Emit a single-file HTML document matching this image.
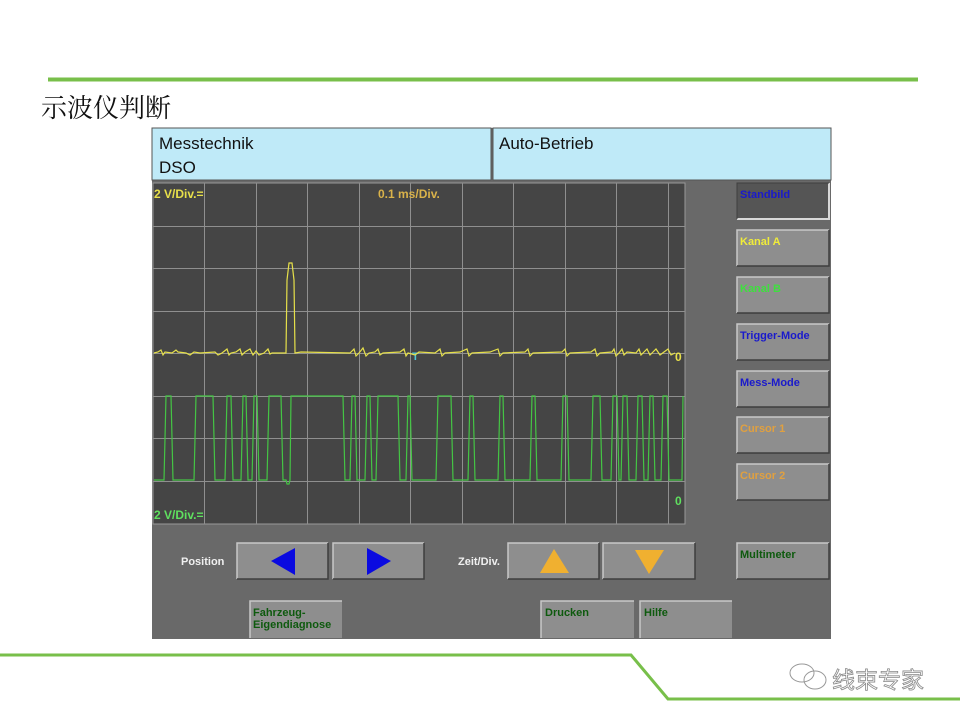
<!DOCTYPE html>
<html><head><meta charset="utf-8"><style>
html,body{margin:0;padding:0;background:#fff;}
svg{display:block}
</style></head><body>
<svg width="960" height="720" viewBox="0 0 960 720" xmlns="http://www.w3.org/2000/svg" font-family="Liberation Sans, Arial, sans-serif">
<rect width="960" height="720" fill="#fff"/>
<line x1="48" y1="79.5" x2="918" y2="79.5" stroke="#78bf4a" stroke-width="4"/>
<text x="41" y="117" font-size="26" font-family="Noto Serif CJK SC, serif" fill="#111">示波仪判断</text>
<polyline points="0,655 631,655 668,699 960,699" fill="none" stroke="#78bf4a" stroke-width="3"/>
<g fill="none" stroke="#999" stroke-width="1">
<ellipse cx="802" cy="673" rx="12" ry="9"/><ellipse cx="815" cy="680" rx="11" ry="9"/>
</g>
<text x="832" y="688" font-size="23" fill="#fff" stroke="#888" stroke-width="0.8" font-family="Noto Sans CJK SC, sans-serif">线束专家</text>

<rect x="152" y="128" width="679" height="511" fill="#696969"/>
<rect x="152" y="128" width="339" height="52" fill="#bfeaf8" stroke="#555" stroke-width="1"/>
<rect x="493" y="128" width="338" height="52" fill="#bfeaf8" stroke="#555" stroke-width="1"/>
<text x="159" y="149" font-size="17" fill="#111">Messtechnik</text>
<text x="159" y="173" font-size="17" fill="#111">DSO</text>
<text x="499" y="149" font-size="17" fill="#111">Auto-Betrieb</text>

<rect x="153" y="183" width="532" height="341" fill="#454545" stroke="#999" stroke-width="1"/>
<g stroke="#8f8f8f" stroke-width="1">
<line x1="204.5" y1="183" x2="204.5" y2="524"/><line x1="256.5" y1="183" x2="256.5" y2="524"/>
<line x1="307.5" y1="183" x2="307.5" y2="524"/><line x1="359.5" y1="183" x2="359.5" y2="524"/>
<line x1="410.5" y1="183" x2="410.5" y2="524"/><line x1="462.5" y1="183" x2="462.5" y2="524"/>
<line x1="513.5" y1="183" x2="513.5" y2="524"/><line x1="565.5" y1="183" x2="565.5" y2="524"/>
<line x1="616.5" y1="183" x2="616.5" y2="524"/><line x1="668.5" y1="183" x2="668.5" y2="524"/>
<line x1="153" y1="226.5" x2="685" y2="226.5"/><line x1="153" y1="268.5" x2="685" y2="268.5"/>
<line x1="153" y1="311.5" x2="685" y2="311.5"/><line x1="153" y1="353.5" x2="685" y2="353.5"/>
<line x1="153" y1="396.5" x2="685" y2="396.5"/><line x1="153" y1="438.5" x2="685" y2="438.5"/>
<line x1="153" y1="481.5" x2="685" y2="481.5"/>
</g>
<text x="154" y="198" font-size="12" font-weight="bold" fill="#e8e04a">2 V/Div.=</text>
<text x="378" y="198" font-size="12" font-weight="bold" fill="#d9b24a">0.1 ms/Div.</text>
<text x="154" y="519" font-size="12" font-weight="bold" fill="#5fe05f">2 V/Div.=</text>
<text x="675" y="505" font-size="12" font-weight="bold" fill="#5fe05f">0</text>
<text x="675" y="361" font-size="12" font-weight="bold" fill="#e8e04a">0</text>
<text x="412" y="360" font-size="11" font-weight="bold" fill="#4ec8d8">T</text>

<polyline fill="none" stroke="#e6e04a" stroke-width="1.2" points="154,353 158,352 161,350 163,355 165,352 172,353 176,350 178,352 186,353 190,355 194,352 200,353 215,352 218,355 222,353 227,349 229,355 231,353 236,352 240,349 242,355 245,352 250,349 253,355 256,351 259,355 264,353 268,349 270,354 272,353 283,353 286,353 287,280 289,263 292,263 294,280 295,353 301,352 350,353 354,349 356,356 359,353 363,348 366,356 369,353 375,352 378,349 380,355 383,353 400,352 404,349 406,356 408,353 415,355 419,352 435,353 440,349 442,356 445,353 460,352 467,349 469,356 472,353 490,352 498,349 500,356 503,353 525,352 528,349 530,356 533,353 562,352 565,349 567,356 570,353 591,352 595,349 597,356 600,353 612,352 614,349 616,356 619,353 622,349 624,355 627,352 636,353 639,349 641,355 644,352 647,349 650,355 653,352 656,349 660,355 664,352 668,349 671,355 675,353"/>
<polyline fill="none" stroke="#44c544" stroke-width="1.2" points="154,480 164,480 166,396 171,396 173,480 194,480 196,396 213,396 215,480 225,480 227,396 231,396 233,480 241,480 243,396 246,396 248,480 252,480 254,396 257,396 259,480 267,480 269,396 281,396 283,480 286,480 287,484 289,484 290,480 291,396 343,396 345,480 350,480 352,396 355,396 357,480 365,480 367,396 370,396 372,480 376,480 378,396 398,396 400,480 406,480 408,396 410,396 412,480 436,480 438,396 451,396 453,480 468,480 470,396 473,396 475,480 498,480 500,396 503,396 505,480 530,480 532,396 535,396 537,480 561,480 563,396 567,396 569,480 591,480 593,396 600,396 602,480 611,480 613,396 617,396 619,480 621,480 623,396 627,396 629,480 636,480 638,396 642,396 644,480 648,480 650,396 653,396 655,480 661,480 663,396 667,396 669,480 682,480 683,396"/>

<g font-size="11" font-weight="bold">
<g>
<rect x="737" y="183" width="92" height="36" fill="#555"/>
<path d="M737,219 H829 V183" fill="none" stroke="#d8d8d8" stroke-width="2"/>
<path d="M737,219 V183 H829" fill="none" stroke="#3e3e3e" stroke-width="1"/>
<text x="740" y="198" fill="#1a1acc">Standbild</text>
</g>
<g fill="#8e8e8e">
<rect x="737" y="230" width="92" height="36"/><rect x="737" y="277" width="92" height="36"/>
<rect x="737" y="324" width="92" height="36"/><rect x="737" y="371" width="92" height="36"/>
<rect x="737" y="417" width="92" height="36"/><rect x="737" y="464" width="92" height="36"/>
<rect x="737" y="543" width="92" height="36"/>
<rect x="237" y="543" width="91" height="36"/><rect x="333" y="543" width="91" height="36"/>
<rect x="508" y="543" width="91" height="36"/><rect x="603" y="543" width="92" height="36"/>
<rect x="250" y="601" width="92" height="37"/><rect x="541" y="601" width="93" height="37"/>
<rect x="640" y="601" width="92" height="37"/>
</g>
<g fill="none" stroke="#c8c8c8" stroke-width="1.5">
<path d="M737,266 V230 H829"/><path d="M737,313 V277 H829"/><path d="M737,360 V324 H829"/>
<path d="M737,407 V371 H829"/><path d="M737,453 V417 H829"/><path d="M737,500 V464 H829"/>
<path d="M737,579 V543 H829"/><path d="M237,579 V543 H328"/><path d="M333,579 V543 H424"/>
<path d="M508,579 V543 H599"/><path d="M603,579 V543 H695"/><path d="M250,638 V601 H342"/>
<path d="M541,638 V601 H634"/><path d="M640,638 V601 H732"/>
</g>
<g fill="none" stroke="#3e3e3e" stroke-width="1.5">
<path d="M737,266 H829 V230"/><path d="M737,313 H829 V277"/><path d="M737,360 H829 V324"/>
<path d="M737,407 H829 V371"/><path d="M737,453 H829 V417"/><path d="M737,500 H829 V464"/>
<path d="M737,579 H829 V543"/><path d="M237,579 H328 V543"/><path d="M333,579 H424 V543"/>
<path d="M508,579 H599 V543"/><path d="M603,579 H695 V543"/>
</g>
<text x="740" y="245" fill="#f0ec3a">Kanal A</text>
<text x="740" y="292" fill="#3ee03e">Kanal B</text>
<text x="740" y="339" fill="#1a1acc">Trigger-Mode</text>
<text x="740" y="386" fill="#1a1acc">Mess-Mode</text>
<text x="740" y="432" fill="#e0a040">Cursor 1</text>
<text x="740" y="479" fill="#e0a040">Cursor 2</text>
<text x="740" y="558" fill="#0e5a0e">Multimeter</text>
<text x="181" y="565" fill="#f0f0f0">Position</text>
<text x="458" y="565" fill="#f0f0f0">Zeit/Div.</text>
<text x="253" y="616" fill="#0e5a0e">Fahrzeug-</text>
<text x="253" y="628" fill="#0e5a0e">Eigendiagnose</text>
<text x="545" y="616" fill="#0e5a0e">Drucken</text>
<text x="644" y="616" fill="#0e5a0e">Hilfe</text>
</g>
<polygon points="271,561 295,548 295,575" fill="#0a0ae0"/>
<polygon points="391,561 367,548 367,575" fill="#0a0ae0"/>
<polygon points="540,573 569,573 554,549" fill="#f0b030"/>
<polygon points="635,550 664,550 649,574" fill="#f0b030"/>
</svg>
</body></html>
